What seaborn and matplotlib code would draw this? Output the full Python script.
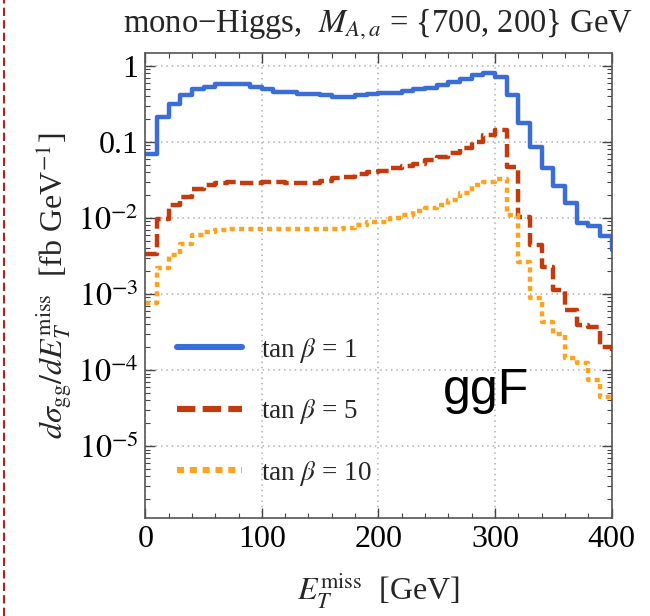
import numpy as np
import pandas as pd
import seaborn as sns
import matplotlib
matplotlib.use("Agg")
import matplotlib.pyplot as plt
from matplotlib.lines import Line2D
from matplotlib.ticker import FixedLocator, MultipleLocator, LogLocator, NullFormatter

# ---- data (bin left edges, 10 GeV bins; last point = value at the 400 GeV edge) ----
edges = list(range(0, 410, 10))
tb1 = [0.069, 0.215, 0.316, 0.415, 0.49, 0.535, 0.57, 0.57, 0.57, 0.525,
       0.50, 0.46, 0.45, 0.43, 0.425, 0.41, 0.395, 0.395, 0.41, 0.43,
       0.437, 0.44, 0.465, 0.49, 0.52, 0.56, 0.61, 0.67, 0.76, 0.80,
       0.71, 0.415, 0.18, 0.087, 0.045, 0.026, 0.0156, 0.0085, 0.0079, 0.0058,
       0.0038]
tb5 = [0.00336, 0.0096, 0.0148, 0.019, 0.0238, 0.0272, 0.0286, 0.0295, 0.029, 0.029,
       0.030, 0.0298, 0.029, 0.0286, 0.0292, 0.0306, 0.034, 0.035, 0.038, 0.040,
       0.042, 0.045, 0.049, 0.052, 0.058, 0.064, 0.072, 0.083, 0.10, 0.124,
       0.144, 0.047, 0.0104, 0.0044, 0.0023, 0.00113, 0.00062, 0.00039, 0.00037, 0.000203,
       0.00015]
tb10 = [0.00077, 0.0022, 0.0033, 0.0046, 0.0060, 0.0066, 0.0069, 0.0072, 0.0072, 0.0071,
        0.0071, 0.0071, 0.0071, 0.0071, 0.0071, 0.0071, 0.0071, 0.0074, 0.0081, 0.0089,
        0.0089, 0.0099, 0.011, 0.0122, 0.0134, 0.0148, 0.0173, 0.0211, 0.027, 0.030,
        0.033, 0.011, 0.00266, 0.00088, 0.00043, 0.00030, 0.000143, 0.000122, 0.000074, 0.0000447,
        0.0000447]
series_names = [r"tan $\beta$ = 1", r"tan $\beta$ = 5", r"tan $\beta$ = 10"]
xticks = [0, 100, 200, 300, 400]
yticks = [1, 0.1, 1e-2, 1e-3, 1e-4, 1e-5]
ytick_labels = ["1", "0.1", r"$10^{-2}$", r"$10^{-3}$", r"$10^{-4}$", r"$10^{-5}$"]

colors = {series_names[0]: "#3b6dd8", series_names[1]: "#c5390b", series_names[2]: "#ffa21c"}
dashes = {series_names[0]: "", series_names[1]: (3.0, 1.2), series_names[2]: (1.15, 0.95)}

df = pd.concat([
    pd.DataFrame({"x": edges, "y": vals, "series": name})
    for name, vals in zip(series_names, [tb1, tb5, tb10])
], ignore_index=True)

sns.set_style("ticks")
plt.rcParams["font.family"] = ["Liberation Serif", "DejaVu Serif"]
plt.rcParams["mathtext.fontset"] = "stix"

fig = plt.figure(figsize=(6.5, 6.16), dpi=100)
ax = fig.add_axes([0.2235, 0.159, 0.9408 - 0.2235, 0.914 - 0.159])

sns.lineplot(data=df, x="x", y="y", hue="series", style="series",
             palette=colors, dashes=dashes, drawstyle="steps-post",
             linewidth=3.2, estimator=None, legend=False, ax=ax)

ax.set_yscale("log")
ax.set_xlim(0, 400)
ax.set_ylim(1.13e-6, 1.48)

ax.xaxis.set_major_locator(FixedLocator(xticks))
ax.xaxis.set_minor_locator(MultipleLocator(20))
ax.set_xticklabels([str(t) for t in xticks])
ax.yaxis.set_major_locator(FixedLocator(yticks))
ax.set_yticklabels(ytick_labels)
ax.yaxis.set_minor_locator(LogLocator(base=10, subs=np.arange(2, 10)))
ax.yaxis.set_minor_formatter(NullFormatter())

ax.tick_params(which="both", direction="in", top=True, right=True, colors="#444444",
               labelcolor="black", labelsize=23)
ax.tick_params(which="major", length=7, width=1.0, pad=5)
ax.tick_params(which="minor", length=3.5, width=0.8)
for s in ax.spines.values():
    s.set_color("#555555")
    s.set_linewidth(1.2)

ax.grid(which="major", linestyle=(0, (1, 2.5)), color="#b0b0b0", linewidth=1.1)

ax.set_xlabel(r"$E_T^{\mathrm{miss}}$  [GeV]", fontsize=23, labelpad=12)
ax.set_ylabel(r"$d\sigma_{\mathrm{gg}}/dE_T^{\mathrm{miss}}$  [fb GeV$^{-1}$]", fontsize=23, labelpad=3)
ax.set_title("mono\u2212Higgs,  $M_{A,a}$ = {700, 200} GeV", fontsize=23.5, pad=15)

handles = [Line2D([], [], color=colors[n], linewidth=4.4,
                  dashes=dashes[n] if dashes[n] else (None, None),
                  linestyle="-") for n in series_names]
leg = ax.legend(handles, series_names, loc="lower left", bbox_to_anchor=(0.015, 0.013),
                frameon=False, fontsize=19.5, handlelength=2.4, labelspacing=1.2,
                handletextpad=0.7)

ax.text(255, 3.6e-5, "ggF", fontsize=36, family="Liberation Sans", color="black",
        ha="left", va="baseline")

# page-edge marker seen at the far left of the reference
fig.add_artist(Line2D([0.006, 0.006], [0, 1], transform=fig.transFigure,
                      color="#b22222", linestyle=(0, (4, 2)), linewidth=1.5))

fig.savefig("out.png", dpi=100)
